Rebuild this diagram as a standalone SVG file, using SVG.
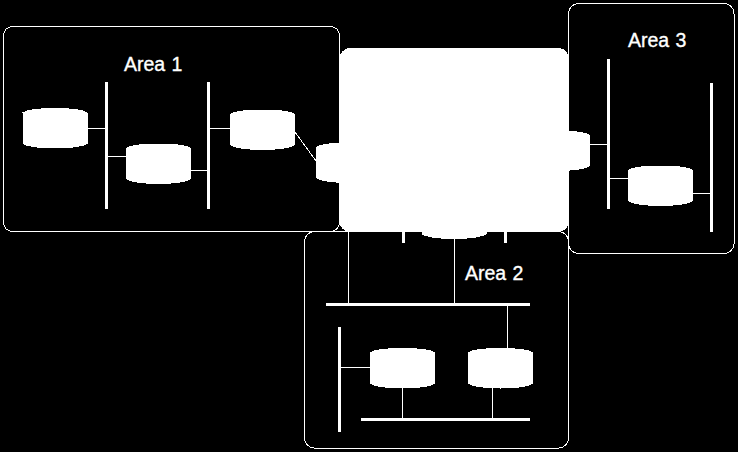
<svg xmlns="http://www.w3.org/2000/svg" width="738" height="452" viewBox="0 0 738 452" shape-rendering="crispEdges">
<style>
.area{fill:none;stroke:#fff;stroke-width:1}
.cyl{fill:#fff;stroke:none}
.thin{stroke:#fff;stroke-width:1;fill:none}
.bus{stroke:#fff;stroke-width:3;fill:none;stroke-linecap:round}
.lbl{fill:#fff;stroke:#fff;stroke-width:.35;font-family:"Liberation Sans",Arial,sans-serif;font-size:19.500px;word-spacing:1px}
</style>
<defs>
<path id="cylinder" d="M0 4.500C3 1.500 16 0 32.500 0S62 1.500 65 4.500V35.500C62 38.500 49 40.500 32.500 40.500S3 38.500 0 35.500Z"/>
</defs>
<rect id="background" width="738" height="452" fill="#000"/>
<g id="area-1"><rect class="area" x="3.500" y="26.500" width="336" height="205" rx="9"/><text class="lbl" x="124" y="70.500">Area 1</text></g>
<g id="area-2"><rect class="area" x="304.500" y="231.500" width="264" height="216.500" rx="10"/><text class="lbl" x="465" y="279.500">Area 2</text></g>
<g id="area-3"><rect class="area" x="568.500" y="3.500" width="165.500" height="250" rx="10"/><text class="lbl" x="628" y="47">Area 3</text></g>
<g id="connectors">
<path class="thin" d="M87 128.500H106M108 156.500H126M191 170.500H208M210 128.500H230M295 132L316 161"/>
<path class="thin" d="M590 144.500H608M610 178.500H628M693 193.500H711"/>
<path class="thin" d="M348.500 232V304M454.500 238V304M507.500 305V348M340 367.500H370M402.500 388V419M492.500 388V419"/>
<path class="bus" d="M106.500 83V208M208.500 83V208M608.500 60V208M711.500 84V231M327.500 304.500H529M339.500 328V431M362.500 419.500H529M403.500 225V242M505.500 225V242"/>
</g>
<g id="router-1"><use class="cyl" href="#cylinder" x="22.500" y="108"/></g>
<g id="router-2"><use class="cyl" href="#cylinder" x="126" y="143.500"/></g>
<g id="router-3"><use class="cyl" href="#cylinder" x="230" y="109.500"/></g>
<g id="router-4"><use class="cyl" href="#cylinder" x="316" y="142.500"/></g>
<g id="router-5"><use class="cyl" href="#cylinder" x="525" y="130.500"/></g>
<g id="router-6"><use class="cyl" href="#cylinder" x="628" y="165.500"/></g>
<g id="router-7"><use class="cyl" href="#cylinder" x="421.500" y="198.500"/></g>
<g id="router-8"><use class="cyl" href="#cylinder" x="370" y="348"/></g>
<g id="router-9"><use class="cyl" href="#cylinder" x="468" y="348"/></g>
<g id="backbone"><rect x="339.500" y="48" width="229.500" height="184" rx="11" fill="#fff"/></g>
</svg>
